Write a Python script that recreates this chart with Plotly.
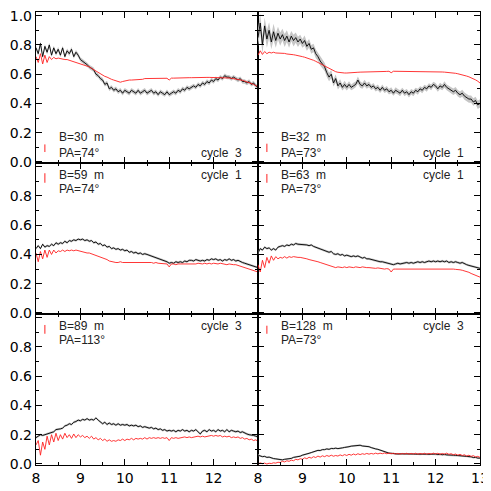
import plotly.graph_objects as go
from plotly.subplots import make_subplots

# wavelength grid (micron), 0.05 step
WAVELENGTH = [
    8.00, 8.05, 8.10, 8.15, 8.20, 8.25, 8.30, 8.35, 8.40, 8.45,
    8.50, 8.55, 8.60, 8.65, 8.70, 8.75, 8.80, 8.85, 8.90, 8.95,
    9.00, 9.05, 9.10, 9.15, 9.20, 9.25, 9.30, 9.35, 9.40, 9.45,
    9.50, 9.55, 9.60, 9.65, 9.70, 9.75, 9.80, 9.85, 9.90, 9.95,
    10.00, 10.05, 10.10, 10.15, 10.20, 10.25, 10.30, 10.35, 10.40, 10.45,
    10.50, 10.55, 10.60, 10.65, 10.70, 10.75, 10.80, 10.85, 10.90, 10.95,
    11.00, 11.05, 11.10, 11.15, 11.20, 11.25, 11.30, 11.35, 11.40, 11.45,
    11.50, 11.55, 11.60, 11.65, 11.70, 11.75, 11.80, 11.85, 11.90, 11.95,
    12.00, 12.05, 12.10, 12.15, 12.20, 12.25, 12.30, 12.35, 12.40, 12.45,
    12.50, 12.55, 12.60, 12.65, 12.70, 12.75, 12.80, 12.85, 12.90, 12.95,
    13.00,
]

# B=30 m
BLACK_B30 = [
    0.78, 0.74, 0.81, 0.72, 0.79, 0.75, 0.80, 0.73, 0.78, 0.74,
    0.77, 0.73, 0.78, 0.72, 0.76, 0.74, 0.77, 0.72, 0.75, 0.73,
    0.70, 0.69, 0.68, 0.665, 0.65, 0.64, 0.63, 0.60, 0.59, 0.57,
    0.56, 0.53, 0.54, 0.50, 0.51, 0.49, 0.50, 0.48, 0.49, 0.47,
    0.49, 0.48, 0.47, 0.49, 0.48, 0.47, 0.49, 0.47, 0.48, 0.49,
    0.47, 0.48, 0.49, 0.47, 0.48, 0.46, 0.48, 0.47, 0.46, 0.48,
    0.46, 0.47, 0.48, 0.47, 0.49, 0.48, 0.50, 0.49, 0.51, 0.50,
    0.51, 0.52, 0.51, 0.53, 0.52, 0.54, 0.53, 0.55, 0.54, 0.56,
    0.55, 0.57, 0.56, 0.58, 0.57, 0.59, 0.58, 0.58, 0.57, 0.58,
    0.57, 0.56, 0.57, 0.55, 0.55, 0.54, 0.55, 0.53, 0.54, 0.52,
    0.51,
]
RED_B30 = [
    0.72, 0.68, 0.74, 0.67, 0.73, 0.68, 0.72, 0.70, 0.715, 0.705,
    0.71, 0.705, 0.70, 0.70, 0.70, 0.695, 0.69, 0.69, 0.685, 0.68,
    0.675, 0.67, 0.665, 0.655, 0.65, 0.64, 0.63, 0.62, 0.61, 0.60,
    0.595, 0.585, 0.58, 0.57, 0.565, 0.56, 0.555, 0.55, 0.545, 0.55,
    0.555, 0.555, 0.56, 0.56, 0.56, 0.565, 0.565, 0.565, 0.565, 0.57,
    0.57, 0.57, 0.57, 0.57, 0.57, 0.57, 0.572, 0.572, 0.572, 0.572,
    0.56, 0.573, 0.573, 0.574, 0.574, 0.575, 0.575, 0.575, 0.575, 0.576,
    0.576, 0.577, 0.577, 0.577, 0.577, 0.578, 0.578, 0.578, 0.578, 0.578,
    0.578, 0.578, 0.578, 0.577, 0.577, 0.576, 0.575, 0.574, 0.572, 0.570,
    0.568, 0.565, 0.562, 0.558, 0.553, 0.548, 0.543, 0.537, 0.530, 0.522,
    0.515,
]

# B=32 m
BLACK_B32 = [
    0.85, 0.95, 0.80, 0.93, 0.84, 0.90, 0.82, 0.89, 0.83, 0.88,
    0.84, 0.87, 0.83, 0.86, 0.82, 0.86, 0.83, 0.85, 0.82, 0.84,
    0.81, 0.83, 0.79, 0.81, 0.77, 0.78, 0.74, 0.72, 0.69, 0.67,
    0.65, 0.61, 0.58, 0.60, 0.54, 0.57, 0.52, 0.54, 0.51, 0.53,
    0.51, 0.53, 0.51, 0.52, 0.53, 0.56, 0.53, 0.52, 0.54, 0.52,
    0.53, 0.51, 0.52, 0.50, 0.51, 0.49, 0.51, 0.49, 0.50, 0.48,
    0.49, 0.47, 0.49, 0.48, 0.47, 0.49, 0.47, 0.48, 0.46, 0.48,
    0.47, 0.49, 0.48, 0.50, 0.49, 0.51, 0.50, 0.52, 0.51, 0.53,
    0.52, 0.50, 0.52, 0.51, 0.53, 0.51, 0.50, 0.49, 0.48, 0.49,
    0.47, 0.46, 0.47, 0.45, 0.44, 0.43, 0.43, 0.41, 0.42, 0.39,
    0.40,
]
RED_B32 = [
    0.73, 0.76, 0.735, 0.755, 0.74, 0.75, 0.745, 0.75, 0.745, 0.745,
    0.745, 0.74, 0.742, 0.738, 0.738, 0.735, 0.733, 0.73, 0.728, 0.724,
    0.72, 0.716, 0.712, 0.707, 0.70, 0.695, 0.688, 0.68, 0.672, 0.663,
    0.655, 0.646, 0.638, 0.63, 0.623, 0.617, 0.613, 0.61, 0.608, 0.608,
    0.608, 0.61, 0.61, 0.612, 0.612, 0.613, 0.614, 0.614, 0.615, 0.615,
    0.616, 0.617, 0.617, 0.618, 0.618, 0.618, 0.619, 0.619, 0.619, 0.62,
    0.61, 0.62, 0.62, 0.62, 0.62, 0.62, 0.62, 0.62, 0.619, 0.619,
    0.619, 0.618, 0.618, 0.618, 0.618, 0.617, 0.617, 0.617, 0.617, 0.616,
    0.616, 0.616, 0.615, 0.615, 0.614, 0.613, 0.612, 0.61, 0.608, 0.606,
    0.603, 0.60, 0.596, 0.592, 0.587, 0.582, 0.576, 0.569, 0.561, 0.552,
    0.54,
]

# B=59 m
BLACK_B59 = [
    0.44, 0.46, 0.44, 0.47, 0.45, 0.46, 0.455, 0.47, 0.46, 0.48,
    0.47, 0.48, 0.475, 0.49, 0.48, 0.495, 0.49, 0.50, 0.495, 0.505,
    0.50, 0.505, 0.495, 0.50, 0.49, 0.495, 0.48, 0.485, 0.47, 0.475,
    0.46, 0.465, 0.45, 0.455, 0.44, 0.445, 0.435, 0.44, 0.43, 0.435,
    0.425, 0.43, 0.415, 0.42, 0.41, 0.415, 0.405, 0.41, 0.40, 0.405,
    0.40, 0.395, 0.39, 0.385, 0.38, 0.375, 0.37, 0.36, 0.355, 0.35,
    0.34, 0.345, 0.34, 0.35, 0.345, 0.35, 0.345, 0.355, 0.35, 0.36,
    0.36, 0.355, 0.365, 0.36, 0.355, 0.36, 0.355, 0.365, 0.36, 0.37,
    0.365, 0.37, 0.36, 0.365, 0.355, 0.365, 0.36, 0.37, 0.36, 0.365,
    0.355, 0.36, 0.35, 0.345, 0.34, 0.335, 0.33, 0.325, 0.32, 0.315,
    0.31,
]
RED_B59 = [
    0.41, 0.35, 0.42, 0.37, 0.43, 0.38, 0.43, 0.40, 0.43, 0.41,
    0.425, 0.42, 0.43, 0.42, 0.43, 0.425, 0.43, 0.425, 0.43, 0.425,
    0.425, 0.42, 0.415, 0.41, 0.41, 0.405, 0.40, 0.395, 0.39, 0.385,
    0.38, 0.37, 0.365, 0.355, 0.35, 0.345, 0.345, 0.345, 0.35, 0.345,
    0.345, 0.35, 0.345, 0.35, 0.35, 0.345, 0.35, 0.35, 0.345, 0.35,
    0.35, 0.345, 0.345, 0.34, 0.345, 0.34, 0.34, 0.335, 0.335, 0.335,
    0.315, 0.335, 0.335, 0.33, 0.335, 0.335, 0.33, 0.335, 0.335, 0.33,
    0.335, 0.335, 0.335, 0.34, 0.335, 0.335, 0.34, 0.335, 0.34, 0.335,
    0.34, 0.335, 0.335, 0.34, 0.335, 0.335, 0.33, 0.335, 0.33, 0.33,
    0.33, 0.325, 0.325, 0.32, 0.315, 0.31, 0.305, 0.30, 0.295, 0.285,
    0.28,
]

# B=63 m
BLACK_B63 = [
    0.41, 0.44, 0.43, 0.45, 0.44, 0.445, 0.43, 0.44, 0.43, 0.45,
    0.455, 0.46, 0.455, 0.465, 0.46, 0.47, 0.465, 0.475, 0.47, 0.47,
    0.465, 0.47, 0.465, 0.46, 0.465, 0.455, 0.45, 0.445, 0.44, 0.435,
    0.43, 0.425, 0.415, 0.42, 0.405, 0.40, 0.405, 0.395, 0.40, 0.39,
    0.395, 0.39, 0.385, 0.39, 0.385, 0.39, 0.38, 0.375, 0.38, 0.37,
    0.37, 0.365, 0.36, 0.36, 0.355, 0.35, 0.35, 0.345, 0.34, 0.335,
    0.335, 0.33, 0.335, 0.34, 0.335, 0.34, 0.34, 0.345, 0.34, 0.345,
    0.34, 0.345, 0.35, 0.345, 0.35, 0.345, 0.35, 0.355, 0.35, 0.355,
    0.35, 0.355, 0.35, 0.355, 0.35, 0.355, 0.345, 0.35, 0.345, 0.35,
    0.345, 0.34, 0.345, 0.335, 0.33, 0.325, 0.32, 0.315, 0.31, 0.31,
    0.305,
]
RED_B63 = [
    0.33, 0.28, 0.36, 0.31, 0.38, 0.34, 0.39, 0.36, 0.385, 0.37,
    0.38, 0.375, 0.385, 0.375, 0.385, 0.38, 0.385, 0.38, 0.38, 0.38,
    0.378, 0.375, 0.37, 0.365, 0.362, 0.36, 0.355, 0.35, 0.345, 0.34,
    0.335, 0.33, 0.325, 0.32, 0.315, 0.31, 0.315, 0.31, 0.31, 0.315,
    0.31, 0.315, 0.31, 0.31, 0.315, 0.31, 0.31, 0.315, 0.31, 0.31,
    0.31, 0.308, 0.31, 0.305, 0.308, 0.305, 0.305, 0.30, 0.303, 0.30,
    0.28, 0.30, 0.30, 0.30, 0.302, 0.30, 0.30, 0.302, 0.30, 0.302,
    0.30, 0.302, 0.303, 0.30, 0.303, 0.305, 0.303, 0.305, 0.305, 0.305,
    0.305, 0.305, 0.303, 0.305, 0.303, 0.303, 0.30, 0.30, 0.30, 0.298,
    0.298, 0.295, 0.292, 0.288, 0.283, 0.278, 0.27, 0.264, 0.257, 0.25,
    0.245,
]

# B=89 m
BLACK_B89 = [
    0.18, 0.19, 0.20, 0.195, 0.20, 0.205, 0.21, 0.215, 0.22, 0.235,
    0.235, 0.24, 0.245, 0.26, 0.265, 0.275, 0.27, 0.285, 0.29, 0.30,
    0.295, 0.305, 0.30, 0.31, 0.30, 0.305, 0.30, 0.315, 0.30, 0.29,
    0.275, 0.285, 0.27, 0.28, 0.27, 0.275, 0.265, 0.275, 0.265, 0.27,
    0.265, 0.27, 0.26, 0.265, 0.26, 0.265, 0.255, 0.26, 0.25, 0.255,
    0.25, 0.245, 0.25, 0.24, 0.245, 0.235, 0.24, 0.23, 0.235, 0.225,
    0.23, 0.225, 0.23, 0.22, 0.23, 0.225, 0.235, 0.225, 0.23, 0.22,
    0.23, 0.225, 0.235, 0.22, 0.205, 0.225, 0.23, 0.22, 0.235, 0.225,
    0.23, 0.22, 0.235, 0.225, 0.23, 0.22, 0.235, 0.22, 0.23, 0.225,
    0.22, 0.225, 0.215, 0.22, 0.21, 0.205, 0.20, 0.20, 0.195, 0.19,
    0.185,
]
RED_B89 = [
    0.13, 0.16, 0.06, 0.15, 0.10, 0.19, 0.13, 0.20, 0.15, 0.21,
    0.16, 0.20, 0.17, 0.21, 0.18, 0.20, 0.175, 0.205, 0.18, 0.20,
    0.185, 0.195, 0.18, 0.19, 0.175, 0.19, 0.17, 0.18, 0.165, 0.175,
    0.16, 0.17, 0.155, 0.165, 0.155, 0.16, 0.155, 0.165, 0.16, 0.17,
    0.16, 0.17, 0.165, 0.175, 0.165, 0.175, 0.17, 0.175, 0.17, 0.18,
    0.17, 0.18, 0.175, 0.18, 0.175, 0.18, 0.175, 0.18, 0.175, 0.18,
    0.16, 0.18, 0.175, 0.18, 0.175, 0.18, 0.18, 0.185, 0.18, 0.185,
    0.18, 0.185, 0.185, 0.19, 0.185, 0.19, 0.185, 0.19, 0.19, 0.195,
    0.19, 0.195, 0.19, 0.195, 0.185, 0.19, 0.185, 0.19, 0.18, 0.185,
    0.18, 0.185, 0.175, 0.18, 0.17, 0.175, 0.165, 0.17, 0.16, 0.165,
    0.155,
]

# B=128 m
BLACK_B128 = [
    0.06, 0.055, 0.05, 0.052, 0.045, 0.047, 0.04, 0.037, 0.035, 0.031,
    0.03, 0.028, 0.032, 0.033, 0.036, 0.038, 0.045, 0.046, 0.052, 0.053,
    0.06, 0.063, 0.068, 0.073, 0.078, 0.083, 0.088, 0.093, 0.092, 0.098,
    0.098, 0.103, 0.10, 0.106, 0.105, 0.108, 0.105, 0.11, 0.11, 0.113,
    0.118, 0.118, 0.122, 0.123, 0.128, 0.128, 0.128, 0.123, 0.122, 0.118,
    0.118, 0.112, 0.11, 0.103, 0.10, 0.094, 0.09, 0.083, 0.08, 0.074,
    0.073, 0.07, 0.07, 0.068, 0.069, 0.068, 0.069, 0.066, 0.07, 0.066,
    0.068, 0.067, 0.068, 0.065, 0.068, 0.066, 0.067, 0.066, 0.067, 0.066,
    0.068, 0.064, 0.067, 0.063, 0.066, 0.062, 0.063, 0.06, 0.06, 0.059,
    0.058, 0.055, 0.055, 0.052, 0.052, 0.048, 0.049, 0.044, 0.045, 0.04,
    0.04,
]
RED_B128 = [
    0.0, 0.008, 0.002, 0.006, 0.0, 0.005, 0.003, 0.008, 0.006, 0.012,
    0.01, 0.018, 0.014, 0.022, 0.018, 0.026, 0.022, 0.032, 0.028, 0.036,
    0.032, 0.042, 0.036, 0.046, 0.04, 0.05, 0.044, 0.054, 0.047, 0.056,
    0.05, 0.058, 0.052, 0.06, 0.053, 0.058, 0.054, 0.062, 0.056, 0.064,
    0.058, 0.066, 0.06, 0.068, 0.062, 0.07, 0.064, 0.07, 0.066, 0.072,
    0.067, 0.072, 0.068, 0.074, 0.069, 0.074, 0.07, 0.075, 0.07, 0.074,
    0.07, 0.073, 0.068, 0.072, 0.067, 0.072, 0.068, 0.073, 0.067, 0.072,
    0.068, 0.073, 0.067, 0.072, 0.068, 0.073, 0.067, 0.072, 0.068, 0.074,
    0.068, 0.073, 0.066, 0.072, 0.067, 0.074, 0.066, 0.07, 0.063, 0.068,
    0.06, 0.066, 0.058, 0.063, 0.054, 0.06, 0.052, 0.057, 0.048, 0.052,
    0.045,
]

# grey uncertainty band on the black curves (half width)
BAND_B30 = 0.015
BAND_B32 = [
    0.06, 0.065, 0.06, 0.055, 0.06, 0.055, 0.05, 0.055, 0.05, 0.045,
    0.045, 0.04, 0.045, 0.04, 0.04, 0.035, 0.04, 0.035, 0.035, 0.03,
    0.03, 0.035, 0.03, 0.03, 0.03, 0.028, 0.03, 0.028, 0.03, 0.028,
    0.028, 0.03, 0.028, 0.028, 0.025, 0.028, 0.025, 0.025, 0.022, 0.025,
    0.022, 0.022, 0.02, 0.022, 0.02, 0.025, 0.022, 0.02, 0.022, 0.02,
    0.02, 0.018, 0.02, 0.018, 0.02, 0.018, 0.02, 0.018, 0.02, 0.018,
    0.02, 0.018, 0.02, 0.018, 0.02, 0.018, 0.02, 0.018, 0.02, 0.018,
    0.02, 0.018, 0.02, 0.018, 0.02, 0.018, 0.02, 0.018, 0.02, 0.018,
    0.02, 0.02, 0.022, 0.02, 0.022, 0.02, 0.022, 0.022, 0.022, 0.022,
    0.022, 0.022, 0.024, 0.024, 0.024, 0.025, 0.025, 0.026, 0.026, 0.028,
    0.028,
]
BAND_B59 = 0.008
BAND_B63 = 0.008
BAND_B89 = 0.008
BAND_B128 = 0.006

BASELINE_LABELS = ["B=30  m", "B=32  m", "B=59  m", "B=63  m", "B=89  m", "B=128  m"]
ANGLE_LABELS = ["PA=74°", "PA=73°", "PA=74°", "PA=73°", "PA=113°", "PA=73°"]
CYCLE_LABELS = ["cycle  3", "cycle  1", "cycle  1", "cycle  1", "cycle  3", "cycle  3"]

# small red error bar drawn in each panel
ERRBAR_X = 8.2
ERRBAR_LOW = [0.068, 0.068, 0.89, 0.89, 0.89, 0.89]
ERRBAR_HIGH = [0.12, 0.125, 0.955, 0.95, 0.95, 0.945]

panels = [
    (BLACK_B30, RED_B30, BAND_B30),
    (BLACK_B32, RED_B32, BAND_B32),
    (BLACK_B59, RED_B59, BAND_B59),
    (BLACK_B63, RED_B63, BAND_B63),
    (BLACK_B89, RED_B89, BAND_B89),
    (BLACK_B128, RED_B128, BAND_B128),
]

TICK_FONT = dict(family="DejaVu Sans, Verdana, sans-serif", size=14, color="black")
LABEL_FONT = dict(family="Liberation Sans, Arial, sans-serif", size=12, color="#222")

fig = make_subplots(rows=3, cols=2, horizontal_spacing=0, vertical_spacing=0)

for i, (black, red, band) in enumerate(panels):
    row, col = i // 2 + 1, i % 2 + 1
    if not isinstance(band, list):
        band = [band] * len(WAVELENGTH)
    upper = [v + e for v, e in zip(black, band)]
    lower = [v - e for v, e in zip(black, band)]
    fig.add_trace(go.Scatter(x=WAVELENGTH, y=upper, mode="lines", line=dict(width=0),
                             hoverinfo="skip"), row=row, col=col)
    fig.add_trace(go.Scatter(x=WAVELENGTH, y=lower, mode="lines", line=dict(width=0),
                             fill="tonexty", fillcolor="#c6c6c6", hoverinfo="skip"),
                  row=row, col=col)
    fig.add_trace(go.Scatter(x=WAVELENGTH, y=black, mode="lines",
                             line=dict(color="black", width=0.9)), row=row, col=col)
    fig.add_trace(go.Scatter(x=WAVELENGTH, y=red, mode="lines",
                             line=dict(color="#ff2020", width=0.9)), row=row, col=col)
    fig.add_trace(go.Scatter(x=[ERRBAR_X, ERRBAR_X], y=[ERRBAR_LOW[i], ERRBAR_HIGH[i]],
                             mode="lines", line=dict(color="#ff2020", width=1)),
                  row=row, col=col)

    # panel labels
    top = row > 1
    y_b, y_pa, y_cyc = (0.94, 0.845, 0.94) if top else (0.172, 0.064, 0.064)
    txt = dict(showarrow=False, font=LABEL_FONT, yanchor="middle")
    fig.add_annotation(x=8.47, y=y_b, text=BASELINE_LABELS[i], xanchor="left", row=row, col=col, **txt)
    fig.add_annotation(x=8.47, y=y_pa, text=ANGLE_LABELS[i], xanchor="left", row=row, col=col, **txt)
    fig.add_annotation(x=12.68, y=y_cyc, text=CYCLE_LABELS[i], xanchor="right", row=row, col=col, **txt)

    axis_style = dict(showline=True, linecolor="black", linewidth=1.4, mirror="ticks",
                      ticks="inside", ticklen=6, tickwidth=1, tickcolor="black",
                      showgrid=False, zeroline=False, tickfont=TICK_FONT,
                      automargin=False, ticklabeloverflow="allow")
    xticks = [8, 9, 10, 11, 12, 13] if col == 2 else [8, 9, 10, 11, 12]
    fig.update_xaxes(range=[8, 13], tickvals=xticks, ticktext=[str(t) for t in xticks],
                     showticklabels=(row == 3),
                     minor=dict(ticks="inside", ticklen=3, dtick=0.5, tickcolor="black"),
                     row=row, col=col, **axis_style)
    ylabels = ["0.0", "0.2", "0.4", "0.6", "0.8", "1.0" if row == 1 else ""]
    fig.update_yaxes(range=[-0.007, 1.025], tickvals=[0, 0.2, 0.4, 0.6, 0.8, 1.0],
                     ticktext=ylabels, showticklabels=(col == 1),
                     minor=dict(ticks="inside", ticklen=3, dtick=0.1, tickcolor="black"),
                     row=row, col=col, **axis_style)

# the page body keeps its default 8px margin, so the figure is sized to end at 491
fig.update_layout(
    width=483, height=483,
    margin=dict(l=28, r=11, t=4, b=26),
    paper_bgcolor="white", plot_bgcolor="white",
    showlegend=False,
)

fig.write_html("out.html")
